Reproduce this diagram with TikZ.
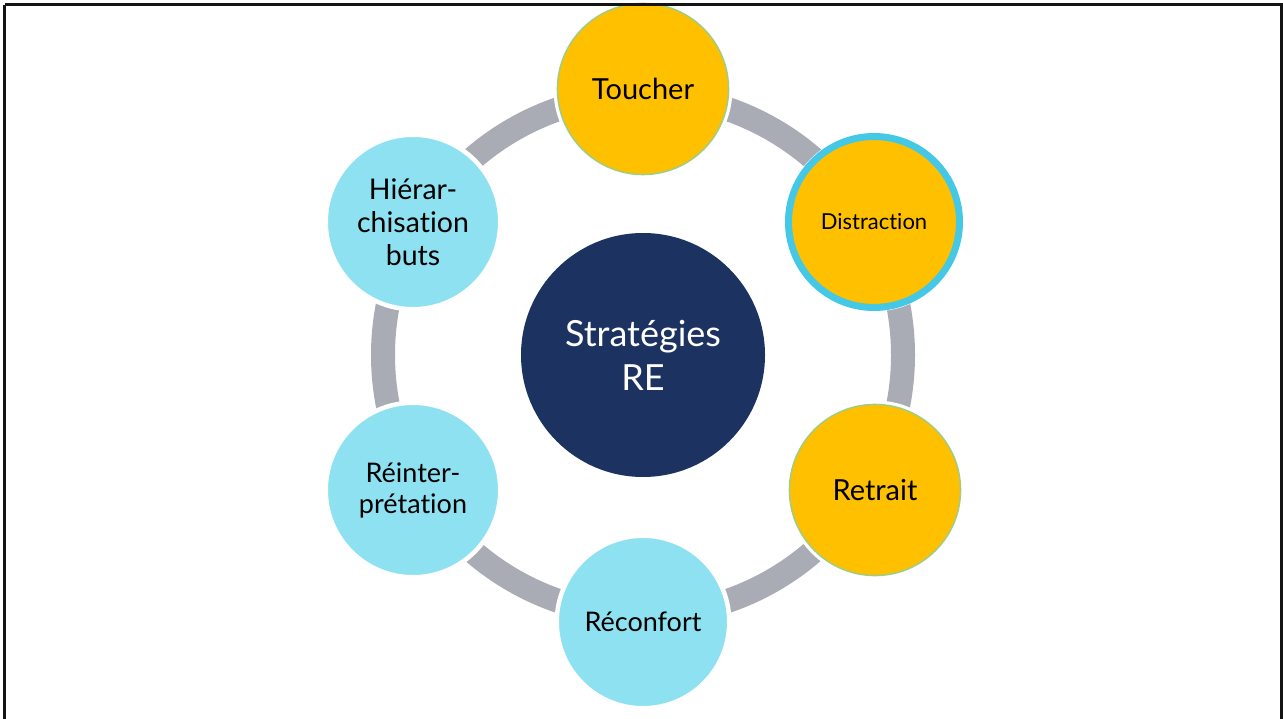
\documentclass[tikz,border=0pt]{standalone}
\usepackage{fontspec}
\setmainfont[Ligatures=NoCommon]{Lato}
\definecolor{gold}{HTML}{FFC000}
\definecolor{skyb}{HTML}{8EE1F1}
\definecolor{navy}{HTML}{1C3260}
\definecolor{ringgray}{HTML}{A9ABB5}
\definecolor{cyanb}{HTML}{45C8E6}
\definecolor{greenb}{HTML}{A5CC7C}
\tikzset{
  bubble/.style={circle, inner sep=0pt, align=center, minimum size=171pt,
    text=black, preaction={draw=white, line width=8pt}},
  goldb/.style={bubble, fill=gold, draw=greenb, line width=1.6pt},
  blueb/.style={bubble, fill=skyb, draw=white, line width=1pt},
}
\begin{document}
\begin{tikzpicture}[x=1pt,y=-1pt]
\useasboundingbox (0,0) rectangle (1283,719);
\fill[white] (0,0) rectangle (1283,719);
% ring
\draw[ringgray, line width=24pt] (643,355) circle[radius=260];
% center
\node[circle, fill=navy, minimum size=244pt, inner sep=0pt, align=center,
  text=white, font=\fontsize{36}{44}\selectfont] (c) at (643,355) {Stratégies\\RE};
% outer bubbles
\node[goldb, font=\fontsize{29}{32}\selectfont] (t) at (643,89) {Toucher};
\node[bubble, fill=gold, draw=cyanb, line width=7pt, minimum size=171pt,
  font=\fontsize{22}{24}\selectfont] (d) at (874,222) {Distraction};
\node[goldb, font=\fontsize{29}{32}\selectfont] (r) at (875,490) {Retrait};
\node[blueb, font=\fontsize{27}{30}\selectfont, minimum size=169pt] (rc) at (643,622) {Réconfort};
\node[blueb, font=\fontsize{27}{31}\selectfont] (ri) at (413,490) {Réinter-\\prétation};
\node[blueb, font=\fontsize{28.5}{33}\selectfont] (h) at (413,222) {Hiérar-\\chisation\\buts};
% frame
\draw[line width=2.6pt, black!92] (4.7,4.7) -- (1281.5,4.7) -- (1281.5,740);
\draw[line width=2.6pt, black!92] (4.7,4.7) -- (4.7,740);
\end{tikzpicture}
\end{document}
